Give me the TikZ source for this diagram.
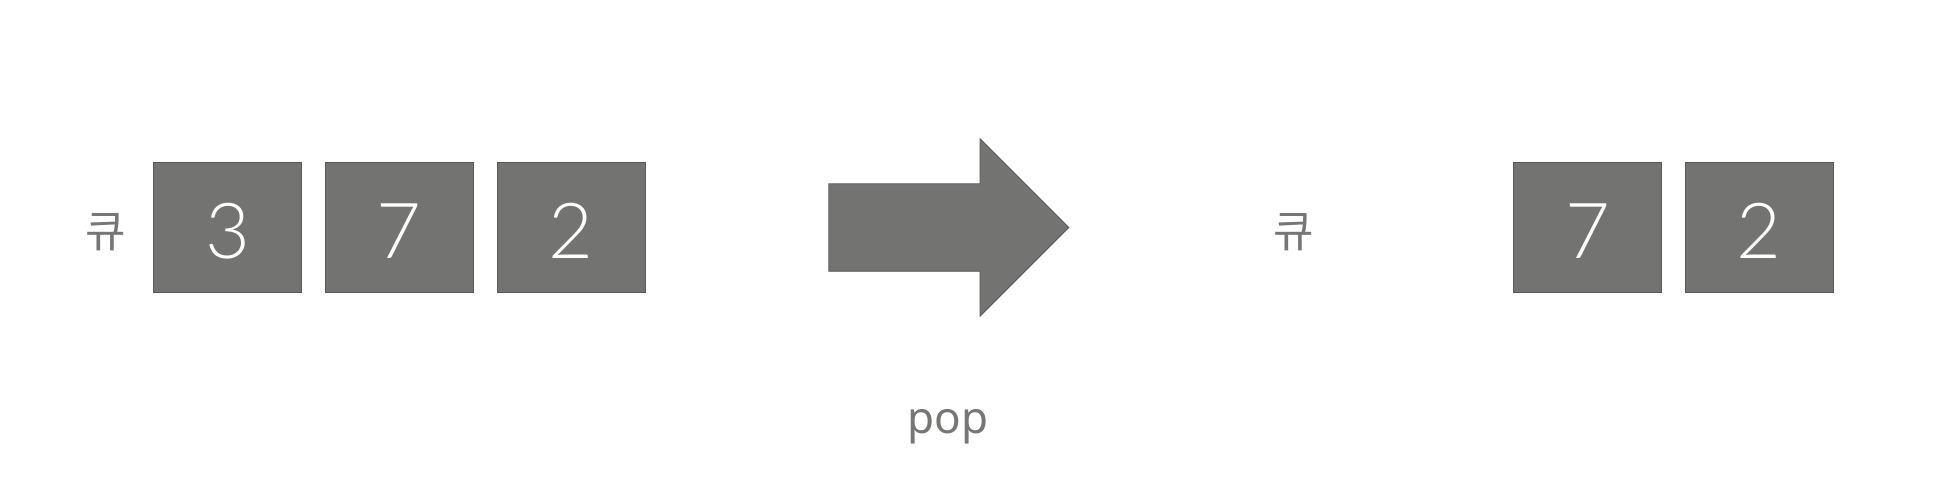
\documentclass[tikz,border=0pt]{standalone}
\usepackage{fontspec}
\setmainfont{Noto Sans}
\newfontfamily\krfont{Noto Sans CJK KR}
\newfontfamily\thinfont{Lato Light}
\definecolor{boxgray}{RGB}{115,116,113}
\definecolor{edgegray}{RGB}{88,88,86}
\definecolor{textgray}{RGB}{118,118,116}
\begin{document}
\begin{tikzpicture}[x=0.75pt,y=-0.75pt,
  cell/.style={draw=edgegray, line width=0.6pt, fill=boxgray,
    minimum width=110.6pt, minimum height=97.5pt, inner sep=0pt},
  cellnum/.style={text=white, font=\thinfont\fontsize{58}{58}\selectfont, inner sep=0pt},
  qlabel/.style={text=textgray, font=\krfont\fontsize{33}{33}\selectfont, inner sep=0pt},
  oplabel/.style={text=textgray, font=\fontsize{33}{33}\selectfont, inner sep=0pt},
  bigarrow/.style={draw=edgegray, line width=0.6pt, fill=boxgray}]
\useasboundingbox (0,0) rectangle (1960,490);
% left queue
\node[qlabel] (q1) at (106,232) {큐};
\node[cell] (a3) at (227.5,227.5) {};
\node[cellnum] (a3t) at (227.5,231) {3};
\node[cell] (a7) at (399.4,227.5) {};
\node[cellnum] (a7t) at (399.4,231) {7};
\node[cell] (a2) at (571.3,227.5) {};
\node[cellnum] (a2t) at (571.3,231) {2};
% arrow
\draw[bigarrow] (828.75,183.75) -- (980,183.75) -- (980,138.75) -- (1068.75,227.5)
  -- (980,316.25) -- (980,271.25) -- (828.75,271.25) -- cycle;
\node[oplabel, anchor=base] (op) at (948,433) {pop};
% right queue
\node[qlabel] (q2) at (1294,232) {큐};
\node[cell] (b7) at (1587.5,227.5) {};
\node[cellnum] (b7t) at (1587.5,231) {7};
\node[cell] (b2) at (1759.4,227.5) {};
\node[cellnum] (b2t) at (1759.4,231) {2};
\end{tikzpicture}
\end{document}
